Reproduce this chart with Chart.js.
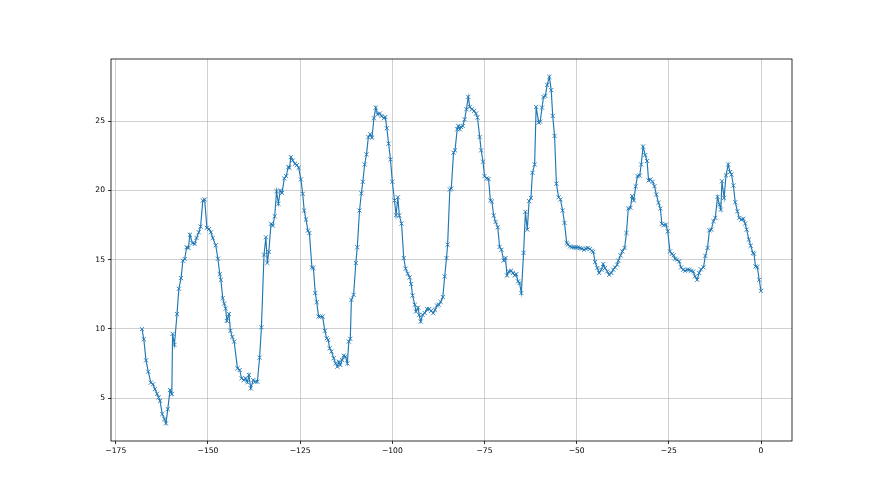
<!DOCTYPE html>
<html>
<head>
<meta charset="utf-8">
<script src="https://cdn.jsdelivr.net/npm/chart.js@4"></script>
<style>
  html,body{margin:0;padding:0;background:#fff;}
  #wrap{width:880px;height:495px;}
</style>
</head>
<body>
<div id="wrap"><canvas id="chart" width="880" height="495"></canvas></div>
<script>
// hours relative to now
const hours = [
  -167.9,-167.4,-166.8,-166.2,-165.5,-164.9,-164.4,-163.8,-163.4,-163.0,
  -162.4,-161.8,-161.4,-160.9,-160.3,-159.8,-159.6,-159.1,-158.4,-157.9,
  -157.3,-156.8,-156.3,-155.8,-155.3,-154.9,-154.2,-153.6,-153.1,-152.5,
  -152.0,-151.4,-150.9,-150.3,-149.7,-149.2,-148.7,-147.9,-147.3,-146.8,
  -146.5,-146.0,-145.6,-145.2,-144.9,-144.3,-143.9,-143.4,-142.9,-142.0,
  -141.4,-140.9,-140.3,-139.8,-139.3,-138.9,-138.4,-137.7,-137.2,-136.6,
  -136.0,-135.5,-134.8,-134.3,-133.9,-133.5,-132.9,-132.4,-131.9,-131.4,
  -130.9,-130.4,-129.9,-129.3,-128.8,-128.2,-127.9,-127.5,-127.0,-126.4,
  -125.9,-125.4,-124.8,-124.3,-123.9,-123.4,-122.9,-122.5,-121.8,-121.4,
  -120.9,-120.5,-120.0,-119.5,-118.9,-118.3,-117.8,-117.4,-117.0,-116.5,
  -115.9,-115.4,-114.9,-114.5,-114.1,-113.6,-113.2,-112.7,-112.2,-111.8,
  -111.4,-111.1,-110.5,-109.9,-109.5,-108.9,-108.4,-108.0,-107.5,-107.0,
  -106.5,-106.0,-105.5,-105.0,-104.5,-104.0,-103.4,-102.9,-102.3,-101.9,
  -101.5,-101.0,-100.5,-100.0,-99.4,-99.0,-98.5,-98.1,-97.5,-96.9,
  -96.4,-95.8,-95.3,-94.9,-94.5,-93.9,-93.6,-93.0,-92.7,-92.3,
  -91.8,-91.2,-90.6,-90.0,-89.5,-88.9,-88.4,-87.9,-87.4,-86.9,
  -86.3,-85.8,-85.3,-85.0,-84.4,-84.0,-83.4,-83.0,-82.4,-82.1,
  -81.7,-81.4,-80.9,-80.4,-79.9,-79.4,-79.0,-78.4,-77.8,-77.3,
  -76.9,-76.3,-75.9,-75.4,-75.0,-74.4,-73.9,-73.4,-73.0,-72.5,
  -72.0,-71.4,-70.9,-70.4,-69.8,-69.3,-68.9,-68.4,-67.8,-67.3,
  -66.8,-66.4,-65.9,-65.5,-65.0,-64.4,-63.9,-63.4,-62.9,-62.4,
  -62.0,-61.4,-61.0,-60.3,-59.9,-59.4,-59.0,-58.5,-58.0,-57.4,
  -56.9,-56.5,-56.0,-55.5,-54.9,-54.4,-53.8,-53.3,-52.7,-52.4,
  -51.8,-51.3,-50.7,-50.2,-49.7,-49.1,-48.6,-48.0,-47.5,-47.0,
  -46.4,-45.9,-45.5,-45.0,-44.4,-43.9,-43.3,-42.8,-42.3,-41.7,
  -41.2,-40.6,-40.1,-39.6,-39.0,-38.7,-38.1,-37.6,-37.0,-36.5,
  -36.0,-35.4,-35.0,-34.5,-34.0,-33.5,-32.9,-32.5,-32.0,-31.4,
  -30.9,-30.5,-30.0,-29.4,-28.9,-28.4,-27.8,-27.3,-26.9,-26.4,
  -25.8,-25.3,-24.7,-24.2,-23.7,-23.3,-22.8,-22.2,-21.7,-21.1,
  -20.6,-20.0,-19.5,-19.0,-18.4,-17.9,-17.3,-16.8,-16.3,-15.6,
  -15.1,-14.5,-14.0,-13.5,-12.9,-12.4,-11.8,-11.3,-10.9,-10.6,
  -10.0,-9.5,-8.9,-8.4,-8.0,-7.5,-7.0,-6.4,-5.9,-5.3,
  -4.8,-4.3,-3.9,-3.3,-2.8,-2.2,-1.9,-1.5,-1.0,-0.5,
  0
];

const values = [
  9.98,9.25,7.73,6.91,6.11,6.0,5.65,5.31,5.05,4.8,
  3.84,3.48,3.17,4.2,5.58,5.29,9.64,8.84,11.07,12.9,
  13.67,14.93,15.05,15.9,15.85,16.8,16.2,16.14,16.57,16.98,
  17.39,19.27,19.35,17.3,17.22,16.98,16.57,16.04,15.07,13.96,
  13.55,12.22,11.83,11.47,10.58,11.07,9.86,9.42,9.08,7.15,
  7.03,6.43,6.3,6.43,6.14,6.67,5.7,6.3,6.18,6.18,
  7.92,10.12,15.36,16.62,14.76,15.56,17.59,17.46,18.14,19.95,
  19.04,20.0,19.83,20.87,21.04,21.69,21.64,22.41,22.17,21.93,
  21.83,21.64,20.8,19.76,18.55,17.9,17.1,16.93,14.44,14.4,
  12.59,11.93,10.89,10.89,10.89,9.86,9.32,9.2,8.6,8.36,
  7.88,7.51,7.27,7.63,7.39,7.75,8.07,7.99,7.51,9.08,
  9.28,12.1,12.46,14.76,15.9,18.55,19.8,20.63,21.88,22.61,
  23.86,24.06,23.82,25.22,25.99,25.51,25.56,25.39,25.22,25.31,
  24.5,23.38,22.25,20.63,19.28,18.21,19.51,18.19,17.61,15.12,
  14.35,13.99,13.72,13.24,12.41,11.74,11.25,11.54,11.01,10.53,
  11.01,11.14,11.43,11.43,11.3,11.14,11.38,11.69,11.75,11.95,
  12.3,13.79,15.12,16.09,20.07,20.14,22.73,22.9,24.42,24.66,
  24.42,24.59,24.66,25.14,25.87,26.76,26.04,25.87,25.75,25.56,
  25.27,23.86,22.9,22.08,21.04,20.87,20.83,19.28,19.2,18.19,
  17.73,17.34,15.92,15.72,14.93,15.12,13.86,14.15,14.2,14.04,
  13.86,13.96,13.43,13.31,12.59,15.49,18.46,17.17,19.23,19.47,
  21.28,21.88,26.04,24.9,24.98,25.99,26.76,26.83,27.63,28.21,
  27.25,25.39,23.94,20.49,19.51,19.35,18.55,17.66,16.21,16.09,
  15.96,15.89,15.89,15.89,15.89,15.85,15.8,15.72,15.8,15.85,
  15.78,15.65,15.56,14.83,14.4,14.04,14.28,14.69,14.4,14.15,
  13.91,14.04,14.28,14.44,14.64,14.93,15.31,15.6,15.85,16.93,
  18.7,18.75,19.59,19.28,20.3,21.04,21.08,21.88,23.17,22.56,
  22.13,20.72,20.8,20.63,20.31,19.71,19.11,18.7,17.59,17.49,
  17.54,17.05,15.6,15.41,15.31,15.07,15.0,14.88,14.44,14.28,
  14.2,14.28,14.28,14.2,14.15,13.79,13.55,14.04,14.3,14.45,
  15.27,15.85,17.12,17.17,17.78,18.02,19.54,18.99,18.62,20.67,
  19.47,21.09,21.88,21.33,21.16,20.36,19.15,18.5,18.02,17.9,
  17.95,17.61,17.17,16.45,16.01,15.49,15.43,14.51,14.47,13.55,
  12.75
];

const xTicks = [-175,-150,-125,-100,-75,-50,-25,0];
const yTicks = [5,10,15,20,25];

const points = hours.map((h,i)=>({x:h, y:values[i]}));
const minus = (v)=>String(v).replace('-','\u2212');

// axes frame like matplotlib spines
const frame = {
  id:'frame',
  afterDatasetsDraw(chart){
    const {ctx, chartArea:a} = chart;
    ctx.save();
    ctx.strokeStyle = '#000';
    ctx.lineWidth = 0.8;
    ctx.strokeRect(a.left, a.top, a.right-a.left, a.bottom-a.top);
    ctx.restore();
  }
};

const font = {family:'"DejaVu Sans", sans-serif', size:7.6};

new Chart(document.getElementById('chart'), {
  type:'scatter',
  data:{datasets:[{
    data:points,
    showLine:true,
    borderColor:'#1f77b4',
    borderWidth:1.15,
    pointStyle:'crossRot',
    pointRadius:2.9,
    pointBorderWidth:0.9,
    pointBorderColor:'#1f77b4',
    pointBackgroundColor:'#1f77b4',
    tension:0
  }]},
  options:{
    responsive:false,
    animation:false,
    events:[],
    layout:{padding:{left:0, top:59, right:88, bottom:0}},
    plugins:{legend:{display:false}, tooltip:{enabled:false}},
    scales:{
      x:{
        type:'linear', min:-176.3, max:8.4,
        afterBuildTicks:(s)=>{ s.ticks = xTicks.map(v=>({value:v})); },
        afterFit:(s)=>{ s.height = 54; },
        border:{display:false},
        grid:{color:'rgba(176,176,176,0.75)', lineWidth:0.8, tickLength:3, tickColor:'#000', tickWidth:0.8},
        ticks:{color:'#000', font, padding:2, maxRotation:0, callback:minus}
      },
      y:{
        type:'linear', min:1.9, max:29.5,
        afterBuildTicks:(s)=>{ s.ticks = yTicks.map(v=>({value:v})); },
        afterFit:(s)=>{ s.width = 111; },
        border:{display:false},
        grid:{color:'rgba(176,176,176,0.75)', lineWidth:0.8, tickLength:3, tickColor:'#000', tickWidth:0.8},
        ticks:{color:'#000', font, padding:3, callback:minus}
      }
    }
  },
  plugins:[frame]
});
</script>
</body>
</html>
